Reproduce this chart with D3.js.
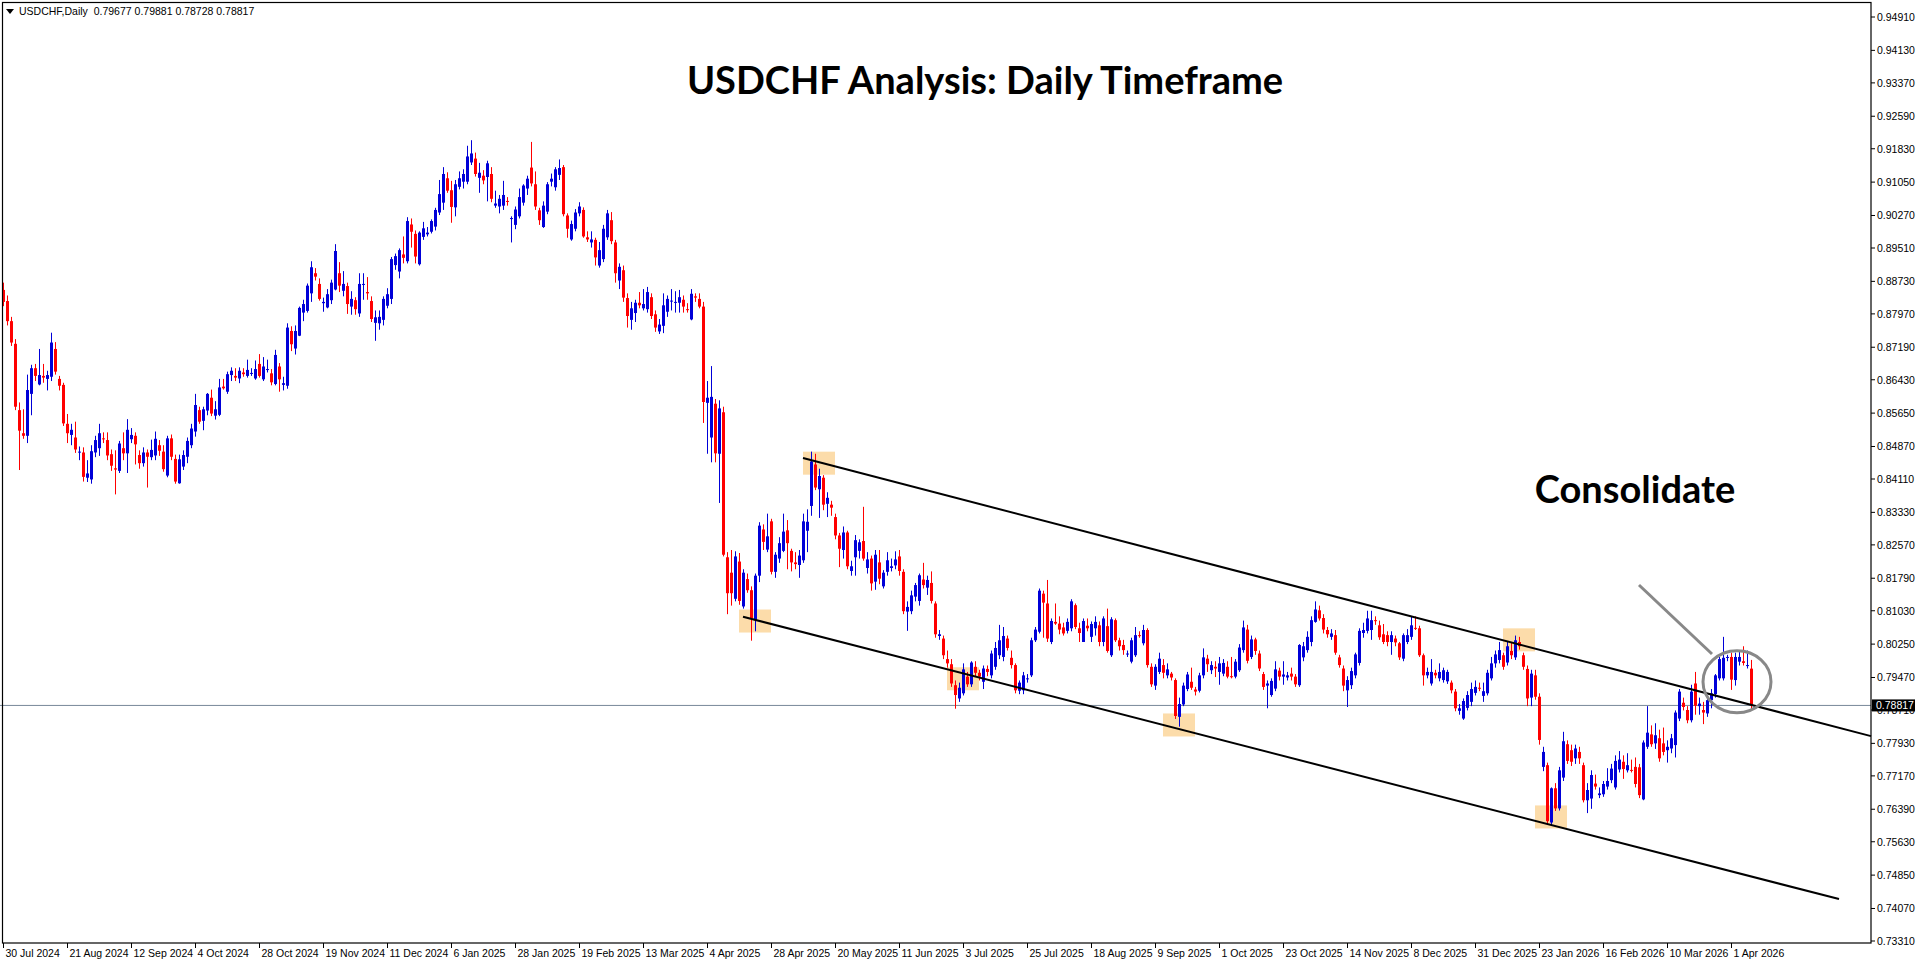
<!DOCTYPE html>
<html><head><meta charset="utf-8">
<script src="https://cdn.jsdelivr.net/npm/d3@7"></script>
<style>body{margin:0;background:#fff}svg{display:block}</style>
</head><body>
<script>
const dateLabels=["30 Jul 2024","21 Aug 2024","12 Sep 2024","4 Oct 2024","28 Oct 2024","19 Nov 2024","11 Dec 2024","6 Jan 2025","28 Jan 2025","19 Feb 2025","13 Mar 2025","4 Apr 2025","28 Apr 2025","20 May 2025","11 Jun 2025","3 Jul 2025","25 Jul 2025","18 Aug 2025","9 Sep 2025","1 Oct 2025","23 Oct 2025","14 Nov 2025","8 Dec 2025","31 Dec 2025","23 Jan 2026","16 Feb 2026","10 Mar 2026","1 Apr 2026"];
const priceTicks=[0.94910,0.94130,0.93370,0.92590,0.91830,0.91050,0.90270,0.89510,0.88730,0.87970,0.87190,0.86430,0.85650,0.84870,0.84110,0.83330,0.82570,0.81790,0.81030,0.80250,0.79470,0.78710,0.77930,0.77170,0.76390,0.75630,0.74850,0.74070,0.73310];
// OHLC in 1/10000 units
const candles=[
[8853,8870,8815,8825],[8827,8840,8770,8780],[8780,8790,8722,8730],[8727,8738,8572,8580],[8572,8590,8432,8524],[8518,8574,8505,8512],[8512,8655,8495,8619],[8610,8678,8560,8670],[8670,8680,8640,8652],[8632,8715,8630,8654],
[8652,8680,8636,8648],[8645,8664,8618,8654],[8650,8753,8640,8730],[8715,8731,8655,8662],[8645,8652,8618,8629],[8631,8636,8535,8541],[8540,8563,8495,8518],[8514,8540,8490,8526],[8508,8545,8472,8480],[8473,8487,8455,8475],
[8473,8485,8405,8416],[8414,8455,8404,8424],[8410,8490,8400,8476],[8473,8512,8462,8502],[8483,8540,8465,8518],[8506,8520,8495,8505],[8502,8520,8455,8466],[8469,8480,8430,8442],[8436,8478,8375,8433],[8430,8500,8425,8494],
[8483,8520,8455,8471],[8471,8551,8425,8526],[8504,8530,8495,8514],[8512,8520,8445,8492],[8467,8478,8435,8448],[8448,8485,8440,8473],[8473,8480,8391,8463],[8462,8503,8455,8479],[8466,8522,8455,8505],[8490,8502,8465,8477],
[8475,8490,8428,8434],[8419,8512,8415,8506],[8506,8515,8455,8463],[8458,8468,8400,8405],[8401,8468,8400,8457],[8440,8478,8432,8467],[8463,8508,8448,8500],[8490,8540,8483,8529],[8522,8610,8510,8584],[8572,8580,8540,8545],
[8547,8580,8525,8574],[8571,8612,8560,8610],[8601,8620,8558,8564],[8559,8593,8550,8574],[8561,8645,8558,8625],[8627,8645,8620,8623],[8615,8662,8610,8656],[8654,8672,8640,8664],[8652,8670,8640,8648],[8646,8672,8635,8664],
[8660,8670,8650,8656],[8652,8690,8648,8666],[8658,8670,8652,8659],[8646,8688,8643,8668],[8680,8703,8648,8652],[8644,8696,8640,8674],[8666,8690,8660,8668],[8658,8668,8630,8637],[8633,8713,8630,8701],[8674,8682,8615,8644],
[8631,8650,8618,8635],[8629,8775,8622,8765],[8757,8768,8710,8726],[8716,8770,8702,8757],[8746,8814,8745,8811],[8800,8830,8780,8820],[8804,8868,8800,8863],[8845,8920,8825,8906],[8892,8904,8875,8884],[8867,8880,8828,8832],
[8822,8835,8802,8825],[8812,8855,8810,8843],[8829,8877,8820,8870],[8854,8960,8852,8944],[8892,8918,8848,8863],[8851,8897,8838,8867],[8862,8870,8797,8820],[8814,8850,8795,8832],[8829,8836,8795,8808],[8798,8892,8790,8867],
[8866,8892,8830,8867],[8848,8883,8830,8845],[8827,8838,8778,8785],[8776,8805,8734,8789],[8775,8805,8760,8790],[8783,8838,8770,8832],[8816,8857,8810,8843],[8832,8930,8820,8925],[8911,8938,8900,8932],[8896,8950,8880,8946],
[8936,8978,8915,8928],[8920,9023,8915,9014],[9006,9020,8952,8989],[8984,8992,8915,8931],[8913,8990,8910,8987],[8977,9012,8970,8997],[8983,9000,8978,8987],[8989,9018,8985,9014],[9001,9045,8992,9040],[9034,9110,9028,9077],
[9057,9140,9040,9124],[9114,9128,9080,9085],[9086,9108,9010,9047],[9046,9110,9025,9100],[9094,9130,9088,9114],[9106,9135,9090,9124],[9106,9190,9100,9165],[9151,9203,9145,9172],[9160,9174,9118,9124],[9115,9150,9080,9127],
[9120,9133,9100,9109],[9117,9155,9060,9149],[9124,9140,9058,9066],[9050,9085,9045,9055],[9048,9075,9032,9066],[9050,9108,9040,9075],[9061,9070,9050,9059],[9019,9025,8964,9021],[9005,9048,8995,9041],[9025,9090,9020,9070],
[9057,9100,9050,9097],[9090,9120,9075,9113],[9139,9199,9095,9102],[9100,9130,9040,9048],[9039,9045,9005,9016],[9000,9060,8998,9050],[9036,9105,9030,9100],[9106,9125,9095,9113],[9093,9140,9085,9135],[9122,9158,9110,9138],
[9140,9145,9025,9030],[9027,9032,8975,8996],[8971,9015,8968,9007],[8996,9042,8990,9034],[9032,9058,9025,9048],[9040,9046,8975,8978],[8976,8990,8965,8971],[8964,8990,8952,8971],[8970,8975,8910,8929],[8910,8965,8905,8946],
[8925,9005,8918,8996],[8976,9040,8970,9032],[9016,9035,8960,8967],[8964,8970,8870,8892],[8875,8915,8855,8907],[8899,8910,8825,8835],[8834,8845,8765,8792],[8783,8825,8760,8810],[8799,8830,8778,8823],[8823,8848,8810,8817],
[8810,8855,8805,8820],[8808,8860,8800,8848],[8836,8845,8785,8792],[8796,8805,8755,8765],[8756,8785,8750,8772],[8769,8845,8752,8817],[8802,8840,8790,8832],[8826,8855,8805,8828],[8823,8850,8800,8825],[8823,8853,8800,8836],
[8830,8840,8800,8814],[8808,8822,8800,8807],[8784,8855,8782,8844],[8838,8845,8825,8835],[8832,8845,8810,8814],[8814,8825,8542,8591],[8589,8640,8470,8601],[8508,8675,8450,8603],[8587,8598,8450,8471],[8470,8595,8355,8576],
[8567,8580,8230,8234],[8228,8240,8095,8144],[8192,8245,8115,8144],[8131,8242,8125,8230],[8218,8238,8117,8126],[8113,8200,8108,8192],[8177,8190,8145,8151],[8151,8160,8033,8086],[8081,8190,8055,8185],[8185,8310,8170,8302],
[8293,8305,8245,8264],[8246,8330,8240,8277],[8312,8318,8188,8194],[8194,8240,8180,8234],[8225,8275,8215,8261],[8243,8330,8240,8288],[8291,8315,8200,8261],[8243,8248,8195,8216],[8216,8240,8200,8212],[8210,8245,8180,8232],
[8221,8330,8215,8312],[8290,8340,8240,8311],[8348,8475,8325,8452],[8445,8470,8385,8391],[8387,8435,8320,8418],[8414,8420,8338,8351],[8353,8380,8322,8367],[8351,8360,8325,8344],[8322,8330,8270,8279],[8279,8285,8205,8248],
[8245,8300,8225,8286],[8286,8290,8200,8207],[8196,8220,8185,8207],[8228,8280,8185,8268],[8243,8270,8225,8263],[8266,8346,8220,8225],[8203,8240,8190,8223],[8225,8232,8150,8167],[8171,8245,8152,8234],[8216,8245,8165,8178],
[8160,8198,8155,8192],[8194,8240,8185,8221],[8203,8225,8195,8207],[8209,8242,8200,8223],[8230,8245,8185,8196],[8194,8200,8095,8102],[8101,8125,8056,8112],[8102,8150,8095,8139],[8136,8168,8125,8163],[8126,8190,8115,8186],
[8176,8215,8155,8163],[8157,8185,8140,8175],[8168,8195,8120,8126],[8120,8125,8040,8048],[8044,8058,8035,8048],[8038,8045,7990,7999],[7990,8010,7970,7980],[7978,7990,7925,7933],[7929,7940,7874,7906],[7898,7935,7890,7923],
[7910,7980,7905,7966],[7949,7960,7925,7931],[7931,7985,7925,7982],[7972,7985,7950,7958],[7958,7965,7940,7949],[7937,7975,7920,7968],[7967,7975,7950,7960],[7952,8010,7945,8003],[7972,8030,7965,8016],[7999,8070,7990,8034],
[7995,8065,7985,8044],[8038,8045,8010,8016],[7993,8010,7968,7976],[7976,7980,7910,7917],[7916,7940,7908,7935],[7917,7960,7908,7952],[7944,7955,7935,7945],[7952,8040,7948,8034],[8034,8065,8030,8059],[8054,8155,8050,8150],
[8143,8150,8040,8122],[8120,8175,8030,8038],[8030,8085,8025,8079],[8077,8120,8070,8073],[8073,8090,8048,8059],[8064,8075,8045,8050],[8056,8085,8050,8077],[8062,8130,8055,8125],[8116,8120,8060,8065],[8062,8075,8030,8051],
[8030,8085,8030,8079],[8068,8085,8055,8062],[8042,8078,8030,8072],[8062,8090,8045,8077],[8069,8078,8020,8030],[8030,8090,8020,8085],[8067,8108,8005,8009],[7999,8088,7995,8083],[8081,8085,8030,8034],[8034,8040,8010,8020],
[8023,8035,8000,8011],[8002,8010,7995,8003],[7984,8040,7980,8034],[7999,8065,7995,8046],[8046,8055,8040,8044],[8027,8070,8022,8058],[8058,8062,7970,7976],[7972,7980,7925,7931],[7928,7978,7918,7972],[7960,8005,7955,7991],
[7976,7990,7945,7958],[7952,7980,7945,7966],[7956,7960,7940,7947],[7941,7945,7850,7857],[7855,7900,7832,7885],[7884,7935,7880,7928],[7920,7960,7915,7954],[7937,7970,7918,7923],[7919,7925,7905,7914],[7916,7958,7912,7952],
[7952,8015,7945,7994],[7991,8000,7960,7978],[7964,7985,7955,7976],[7972,7985,7948,7968],[7960,7995,7930,7980],[7956,7990,7950,7981],[7972,7985,7945,7949],[7950,7995,7945,7949],[7949,7990,7945,7984],[7964,8025,7960,8017],
[8011,8080,8005,8064],[8059,8070,7980,7986],[7995,8045,7990,8036],[8036,8040,8000,8009],[8003,8010,7962,7968],[7955,7960,7918,7925],[7928,7940,7875,7933],[7906,7945,7902,7939],[7921,7985,7915,7966],[7963,7970,7940,7949],
[7949,7985,7930,7954],[7947,7960,7940,7952],[7956,7970,7940,7949],[7949,7955,7925,7931],[7929,8025,7925,8023],[7994,8030,7985,8020],[8011,8055,8005,8042],[8030,8090,8020,8081],[8077,8125,8075,8106],[8104,8115,8080,8085],
[8086,8095,8050,8059],[8058,8065,8040,8048],[8042,8060,8035,8050],[8046,8058,8000,8005],[7994,8000,7970,7976],[7968,7975,7915,7928],[7917,7950,7878,7941],[7929,7970,7920,7962],[7952,8005,7945,8001],[7981,8062,7975,8056],
[8051,8075,8040,8058],[8056,8103,8050,8085],[8058,8103,8035,8081],[8081,8090,8070,8080],[8069,8080,8035,8041],[8048,8072,8025,8030],[8046,8055,8020,8030],[8030,8055,8000,8046],[8038,8045,8020,8029],[8027,8030,7988,7994],
[7991,8050,7985,8046],[8030,8060,8025,8046],[8042,8090,8035,8069],[8063,8090,8058,8062],[8062,8068,7995,7999],[7999,8003,7928,7952],[7952,7970,7945,7960],[7933,7990,7928,7960],[7958,7965,7945,7952],[7945,7980,7938,7960],
[7941,7970,7935,7964],[7938,7965,7932,7960],[7935,7940,7910,7917],[7914,7920,7868,7875],[7869,7885,7860,7875],[7851,7898,7848,7892],[7876,7915,7870,7906],[7890,7935,7880,7920],[7911,7940,7905,7925],[7923,7935,7915,7922],
[7904,7935,7890,7915],[7910,7965,7905,7958],[7945,7995,7940,7980],[7980,8010,7970,8001],[7988,8030,7980,8011],[7999,8005,7965,7972],[7982,8030,7975,8020],[8009,8030,7990,7999],[7994,8045,7988,8034],[8030,8042,8012,8020],
[7999,8005,7965,7972],[7967,7975,7880,7898],[7900,7965,7880,7956],[7952,7965,7895,7902],[7902,7910,7790,7801],[7738,7785,7728,7773],[7742,7748,7605,7611],[7608,7690,7600,7688],[7688,7700,7635,7641],[7641,7738,7636,7730],
[7713,7820,7705,7798],[7791,7800,7745,7752],[7777,7790,7740,7750],[7758,7790,7745,7781],[7773,7785,7745,7758],[7742,7748,7655,7660],[7660,7700,7630,7684],[7664,7730,7640,7719],[7699,7720,7685,7692],[7672,7690,7665,7676],
[7674,7705,7668,7698],[7692,7735,7685,7705],[7707,7745,7700,7734],[7690,7765,7685,7752],[7732,7775,7725,7755],[7750,7765,7710,7733],[7730,7770,7725,7742],[7731,7755,7725,7729],[7738,7760,7690,7698],[7737,7745,7665,7672],
[7662,7800,7660,7795],[7785,7880,7780,7818],[7814,7835,7785,7791],[7793,7840,7780,7812],[7805,7825,7750,7758],[7793,7830,7765,7773],[7777,7800,7748,7785],[7781,7815,7770,7805],[7789,7870,7760,7865],[7851,7920,7845,7914],
[7888,7900,7870,7878],[7871,7880,7840,7847],[7847,7930,7842,7914],[7933,7960,7860,7881],[7880,7900,7860,7886],[7871,7890,7838,7865],[7863,7900,7855,7894],[7894,7920,7875,7910],[7908,7955,7900,7952],[7945,7995,7940,7990],
[7945,8042,7940,7993],[7993,8000,7985,7995],[7995,8005,7918,7942],[7941,8005,7928,7995],[7984,8010,7975,7995],[7985,8020,7975,7981],[7974,8010,7968,7976],[7967.7,7988.1,7872.8,7881.7]
];
const lastPrice=0.78817;
const upperChannel=[[200,0.8460],[467,0.7810]];
const lowerChannel=[[185,0.8089],[459,0.7429]];
const zones=[[204,0.8448],[188,0.8079],[240,0.7944],[294,0.7836],[379,0.8035],[387,0.7621]];

const W=1916,H=964,axisX=1871,axisY=943;
const svg=d3.select("body").append("svg").attr("width",W).attr("height",H);
const x=d3.scaleLinear().domain([0,467]).range([3,axisX]);
const y=d3.scaleLinear().domain([0.7331,0.9491]).range([941,17]);
const data=candles.map((d,i)=>({i,o:d[0]/1e4,h:d[1]/1e4,l:d[2]/1e4,c:d[3]/1e4}));

svg.append("g").selectAll("rect").data(zones).join("rect")
 .attr("x",d=>x(d[0])-16).attr("y",d=>y(d[1])-11.5).attr("width",32).attr("height",23)
 .attr("fill","#fcdcaa");

svg.append("line").attr("x1",0).attr("x2",axisX).attr("y1",y(lastPrice)).attr("y2",y(lastPrice))
 .attr("stroke","#778899").attr("stroke-width",1);

const g=svg.append("g");
g.selectAll("line").data(data).join("line")
 .attr("x1",d=>Math.round(x(d.i))+0.5).attr("x2",d=>Math.round(x(d.i))+0.5)
 .attr("y1",d=>y(d.h)).attr("y2",d=>y(d.l))
 .attr("stroke",d=>d.c>=d.o?"#0000d8":"#ff0000").attr("stroke-width",1);
g.selectAll("rect").data(data).join("rect")
 .attr("x",d=>Math.round(x(d.i))-1).attr("width",3)
 .attr("y",d=>y(Math.max(d.o,d.c))).attr("height",d=>Math.max(1,Math.abs(y(d.o)-y(d.c))))
 .attr("fill",d=>d.c>=d.o?"#0000d8":"#ff0000");

[upperChannel,lowerChannel].forEach(c=>{
 svg.append("line").attr("x1",x(c[0][0])).attr("y1",y(c[0][1])).attr("x2",x(c[1][0])).attr("y2",y(c[1][1]))
  .attr("stroke","#000").attr("stroke-width",2);
});

svg.append("rect").attr("x",2.5).attr("y",2.5).attr("width",axisX-2.5).attr("height",axisY-2.5)
 .attr("fill","none").attr("stroke","#000").attr("stroke-width",1.2);
const ya=svg.append("g");
priceTicks.forEach(p=>{
 ya.append("line").attr("x1",axisX).attr("x2",axisX+4).attr("y1",y(p)).attr("y2",y(p)).attr("stroke","#000");
 ya.append("text").attr("x",axisX+6).attr("y",y(p)+4).text(p.toFixed(5))
  .attr("font-family","Liberation Sans, Arial").attr("font-size",10.5).attr("fill","#000");
});
const py=y(lastPrice);
svg.append("rect").attr("x",axisX+1).attr("y",py-6).attr("width",43).attr("height",12).attr("fill","#000");
svg.append("text").attr("x",axisX+5).attr("y",py+4).text(lastPrice.toFixed(5))
 .attr("font-family","Liberation Sans, Arial").attr("font-size",10.5).attr("fill","#fff");
dateLabels.forEach((t,k)=>{
 const xx=Math.round(x(k*16))+0.5;
 svg.append("line").attr("x1",xx).attr("x2",xx).attr("y1",axisY).attr("y2",axisY+5).attr("stroke","#000");
 svg.append("text").attr("x",xx+2).attr("y",axisY+14).text(t)
  .attr("font-family","Liberation Sans, Arial").attr("font-size",10.5).attr("fill","#000");
});

svg.append("path").attr("d","M6,9 L14,9 L10,14 Z").attr("fill","#000");
svg.append("text").attr("x",19).attr("y",15).text("USDCHF,Daily  0.79677 0.79881 0.78728 0.78817")
 .attr("font-family","Liberation Sans, Arial").attr("font-size",10.5).attr("fill","#000").attr("xml:space","preserve");

svg.append("text").attr("x",985).attr("y",94).attr("text-anchor","middle").text("USDCHF Analysis: Daily Timeframe")
 .attr("font-family","Lato, Open Sans").attr("font-weight","bold").attr("font-size",38).attr("fill","#000");

svg.append("text").attr("x",1635).attr("y",503).attr("text-anchor","middle").text("Consolidate")
 .attr("font-family","Lato, Open Sans").attr("font-weight","bold").attr("font-size",38).attr("fill","#000");
svg.append("line").attr("x1",1639).attr("y1",585).attr("x2",1712).attr("y2",654).attr("stroke","#888").attr("stroke-width",3);
svg.append("ellipse").attr("cx",x(433.5)).attr("cy",y(0.7937)).attr("rx",34).attr("ry",31)
 .attr("fill","none").attr("stroke","#888").attr("stroke-width",3);
</script>
</body></html>
